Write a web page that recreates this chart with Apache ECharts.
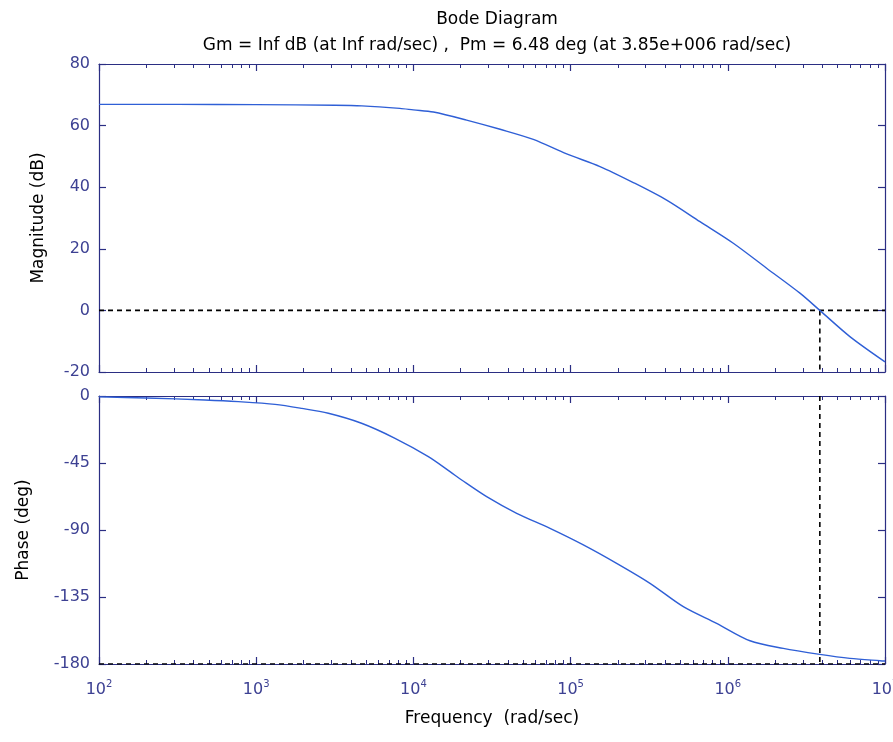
<!DOCTYPE html>
<html>
<head>
<meta charset="utf-8">
<script src="https://cdn.jsdelivr.net/npm/echarts@6/dist/echarts.min.js"></script>
<style>html,body{margin:0;padding:0;background:#fff}#c{width:893px;height:742px}</style>
</head>
<body>
<div id="c"></div>
<script>
// ---- data ----
var magFreq = [100, 316, 1000, 3162, 4700, 8200, 10000, 13400, 21800, 35600, 57900, 94400, 153800, 250600, 408300, 665300, 1084000, 1766000, 2877000, 3850000, 5980000, 10000000];
var magDb   = [66.9, 66.9, 66.8, 66.6, 66.4, 65.6, 65.1, 64.4, 61.8, 58.8, 55.5, 50.8, 46.7, 41.5, 35.8, 28.8, 21.8, 13.7, 5.6, 0, -8.5, -16.7];
var phaseFreq = [100, 200, 472, 769, 1318, 1950, 2877, 4677, 7640, 12450, 17100, 20280, 29240, 45390, 73960, 120500, 196300, 319900, 521200, 849200, 1384000, 2254000, 3850000, 5980000, 9290000, 10000000];
var phaseDeg  = [-0.6, -1.3, -2.7, -3.8, -5.6, -8.3, -11.6, -18.3, -28.4, -40.7, -50.8, -56.4, -67.6, -78.8, -88.9, -100, -112.4, -125.8, -141.5, -152.7, -164.4, -169.5, -173.5, -176.2, -177.8, -178];
var wc = 3850000;          // gain crossover (rad/sec)
var magTicks = [-20, 0, 20, 40, 60, 80];
var phaseTicks = [-180, -135, -90, -45, 0];
var titleLine1 = 'Bode Diagram';
var titleLine2 = 'Gm = Inf dB (at Inf rad/sec) ,  Pm = 6.48 deg (at 3.85e+006 rad/sec)';

// minor log ticks (2..9 per decade)
var minorTicks = [];
for (var d = 2; d < 7; d++) { for (var m = 2; m <= 9; m++) minorTicks.push(m * Math.pow(10, d)); }

var axisColor = '#2b2e83';
var labelColor = '#3d4193';
var font = 'DejaVu Sans, Verdana, sans-serif';

function zip(a, b) { return a.map(function (v, i) { return [v, b[i]]; }); }

function xAxes(grid, withLabels) {
  var base = {
    type: 'log', logBase: 10, min: 100, max: 1e7, gridIndex: grid,
    splitLine: { show: false },
    axisLine: { show: true, onZero: false, lineStyle: { color: axisColor, width: 1.2 } },
    axisTick: { show: true, inside: true, length: 7, lineStyle: { color: axisColor, width: 1.2 } },
    axisLabel: { show: false }
  };
  var bottom = Object.assign({}, base, { position: 'bottom' });
  if (withLabels) {
    bottom.axisLabel = {
      show: true, margin: 15, color: labelColor, fontFamily: font,
      formatter: function (v) { return '{b|10}{s|' + Math.round(Math.log10(v)) + '}'; },
      rich: {
        b: { fontSize: 16, color: labelColor, fontFamily: font },
        s: { fontSize: 10, color: labelColor, fontFamily: font, verticalAlign: 'bottom', padding: [0, 0, 12, 0] }
      }
    };
    bottom.name = 'Frequency  (rad/sec)';
    bottom.nameLocation = 'middle';
    bottom.nameGap = 46;
    bottom.nameTextStyle = { fontSize: 17, color: '#000', fontFamily: font };
  }
  var top = Object.assign({}, base, { position: 'top' });
  var minor = {
    type: 'log', logBase: 10, min: 100, max: 1e7, gridIndex: grid,
    splitLine: { show: false },
    axisLine: { show: false, onZero: false },
    axisTick: { show: true, inside: true, length: 4, customValues: minorTicks, lineStyle: { color: axisColor, width: 1 } },
    axisLabel: { show: false }
  };
  return [bottom, top,
    Object.assign({}, minor, { position: 'bottom' }),
    Object.assign({}, minor, { position: 'top' })];
}

function yAxes(grid, min, max, interval, name, nameGap) {
  var base = {
    type: 'value', gridIndex: grid, min: min, max: max, interval: interval,
    splitLine: { show: false },
    axisLine: { show: true, onZero: false, lineStyle: { color: axisColor, width: 1.2 } },
    axisTick: { show: true, inside: true, length: 7, lineStyle: { color: axisColor, width: 1.2 } }
  };
  var left = Object.assign({}, base, {
    position: 'left',
    axisLabel: { show: true, margin: 9, color: labelColor, fontSize: 16, fontFamily: font },
    name: name, nameLocation: 'middle', nameGap: nameGap, nameRotate: 90,
    nameTextStyle: { fontSize: 17, color: '#000', fontFamily: font }
  });
  var right = Object.assign({}, base, { position: 'right', axisLabel: { show: false } });
  return [left, right];
}

var dashStyle = { color: '#000', width: 1.6, type: [5, 4] };

var option = {
  backgroundColor: '#fff',
  animation: false,
  title: [
    { text: titleLine1, left: 492, top: 6, textAlign: 'center', textStyle: { fontSize: 17, fontWeight: 'normal', color: '#000', fontFamily: font } },
    { text: titleLine2, left: 492, top: 32, textAlign: 'center', textStyle: { fontSize: 17, fontWeight: 'normal', color: '#000', fontFamily: font } }
  ],
  grid: [
    { left: 99, top: 64, width: 786, height: 308, outerBoundsMode: 'none', containLabel: false },
    { left: 99, top: 396, width: 786, height: 268, outerBoundsMode: 'none', containLabel: false }
  ],
  xAxis: xAxes(0, false).concat(xAxes(1, true)),
  yAxis: yAxes(0, -20, 80, 20, 'Magnitude (dB)', 52).concat(yAxes(1, -180, 0, 45, 'Phase (deg)', 67)),
  series: [
    { type: 'line', xAxisIndex: 0, yAxisIndex: 0, data: [[100, 0], [1e7, 0]], symbol: 'none', lineStyle: dashStyle, z: 3 },
    { type: 'line', xAxisIndex: 0, yAxisIndex: 0, data: [[wc, 0], [wc, -20]], symbol: 'none', lineStyle: dashStyle, z: 3 },
    { type: 'line', xAxisIndex: 0, yAxisIndex: 0, data: zip(magFreq, magDb), symbol: 'none', smooth: 0.3, lineStyle: { color: '#2f5fd6', width: 1.4 }, z: 4 },
    { type: 'line', xAxisIndex: 4, yAxisIndex: 2, data: [[100, -180], [1e7, -180]], symbol: 'none', lineStyle: dashStyle, z: 3 },
    { type: 'line', xAxisIndex: 4, yAxisIndex: 2, data: [[wc, 0], [wc, -180]], symbol: 'none', lineStyle: dashStyle, z: 3 },
    { type: 'line', xAxisIndex: 4, yAxisIndex: 2, data: zip(phaseFreq, phaseDeg), symbol: 'none', smooth: 0.3, lineStyle: { color: '#2f5fd6', width: 1.4 }, z: 4 }
  ]
};

var chart = echarts.init(document.getElementById('c'), null, { renderer: 'canvas' });
chart.setOption(option);
</script>
</body>
</html>
